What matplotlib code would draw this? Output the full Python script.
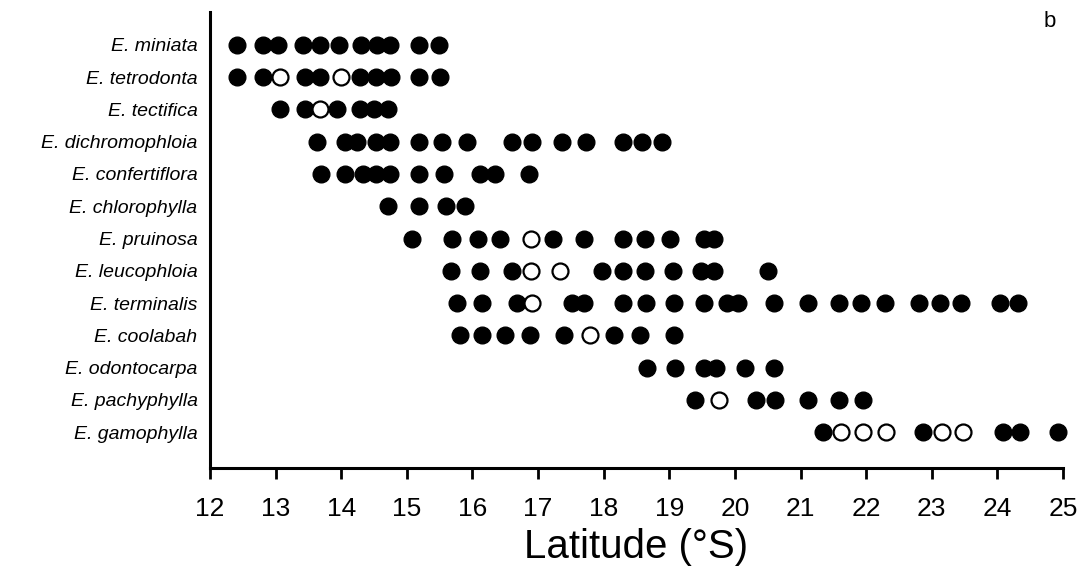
import matplotlib
matplotlib.use('Agg')
import matplotlib.pyplot as plt

species = ["E. miniata", "E. tetrodonta", "E. tectifica", "E. dichromophloia",
           "E. confertiflora", "E. chlorophylla", "E. pruinosa", "E. leucophloia",
           "E. terminalis", "E. coolabah", "E. odontocarpa", "E. pachyphylla",
           "E. gamophylla"]

# latitudes of sites where the species is present (filled) / recorded but not flowering (open)
miniata_filled = [12.41, 12.81, 13.04, 13.42, 13.67, 13.97, 14.30, 14.55, 14.75, 15.18, 15.49]
miniata_open = []
tetrodonta_filled = [12.41, 12.80, 13.45, 13.68, 14.29, 14.53, 14.76, 15.19, 15.50]
tetrodonta_open = [13.07, 14.00]
tectifica_filled = [13.07, 13.45, 13.94, 14.29, 14.50, 14.72]
tectifica_open = [13.67]
dichromophloia_filled = [13.63, 14.06, 14.24, 14.53, 14.75, 15.18, 15.54, 15.91, 16.61, 16.90,
                         17.37, 17.73, 18.29, 18.59, 18.89]
dichromophloia_open = []
confertiflora_filled = [13.69, 14.05, 14.33, 14.53, 14.75, 15.18, 15.57, 16.12, 16.35, 16.86]
confertiflora_open = []
chlorophylla_filled = [14.72, 15.18, 15.59, 15.88]
chlorophylla_open = []
pruinosa_filled = [15.08, 15.69, 16.08, 16.42, 17.23, 17.70, 18.30, 18.63, 19.01, 19.53, 19.68]
pruinosa_open = [16.89]
leucophloia_filled = [15.67, 16.12, 16.61, 17.98, 18.30, 18.63, 19.05, 19.48, 19.68, 20.50]
leucophloia_open = [16.89, 17.33]
terminalis_filled = [15.76, 16.15, 16.68, 17.51, 17.70, 18.30, 18.64, 19.07, 19.53, 19.88, 20.04,
                     20.60, 21.11, 21.59, 21.92, 22.28, 22.80, 23.12, 23.45, 24.04, 24.32]
terminalis_open = [16.91]
coolabah_filled = [15.81, 16.15, 16.50, 16.87, 17.39, 18.16, 18.55, 19.07]
coolabah_open = [17.79]
odontocarpa_filled = [18.66, 19.08, 19.53, 19.71, 20.15, 20.60]
odontocarpa_open = []
pachyphylla_filled = [19.39, 20.32, 20.61, 21.12, 21.59, 21.95]
pachyphylla_open = [19.76]
gamophylla_filled = [21.34, 22.87, 24.09, 24.34, 24.93]
gamophylla_open = [21.61, 21.95, 22.31, 23.15, 23.48]

filled = [miniata_filled, tetrodonta_filled, tectifica_filled, dichromophloia_filled,
          confertiflora_filled, chlorophylla_filled, pruinosa_filled, leucophloia_filled,
          terminalis_filled, coolabah_filled, odontocarpa_filled, pachyphylla_filled,
          gamophylla_filled]
opened = [miniata_open, tetrodonta_open, tectifica_open, dichromophloia_open,
          confertiflora_open, chlorophylla_open, pruinosa_open, leucophloia_open,
          terminalis_open, coolabah_open, odontocarpa_open, pachyphylla_open,
          gamophylla_open]

xticks = list(range(12, 26))

fig = plt.figure(figsize=(10.86, 5.70), dpi=100)
ax = fig.add_axes([0.1934, 0.179, 0.7854, 0.800])

for i, (f_lat, o_lat) in enumerate(zip(filled, opened)):
    ax.plot(f_lat, [i] * len(f_lat), 'o', color='black', markersize=12, zorder=2,
            clip_on=False)
    if o_lat:
        ax.plot(o_lat, [i] * len(o_lat), 'o', markerfacecolor='white',
                markeredgecolor='black', markeredgewidth=1.6, markersize=11.5, zorder=3,
                clip_on=False)

ax.set_xlim(12, 25)
ax.set_ylim(13.11, -1.02)
ax.set_yticks(range(len(species)))
ax.set_yticklabels(species, fontsize=14, style='italic', family='Liberation Sans')
ax.tick_params(axis='y', length=0, pad=9)

ax.set_xticks(xticks)
ax.set_xticklabels([str(t) for t in xticks], fontsize=19, family='Liberation Sans')
ax.tick_params(axis='x', direction='out', length=8, width=2, pad=13)

for side in ['top', 'right']:
    ax.spines[side].set_visible(False)
for side in ['left', 'bottom']:
    ax.spines[side].set_linewidth(2.2)

ax.set_xlabel("Latitude (°S)", fontsize=29, family='Liberation Sans', labelpad=5)
fig.text(0.967, 0.98, "b", fontsize=16, family='Liberation Sans', ha='center', va='top')

fig.savefig("out.png", dpi=100)
